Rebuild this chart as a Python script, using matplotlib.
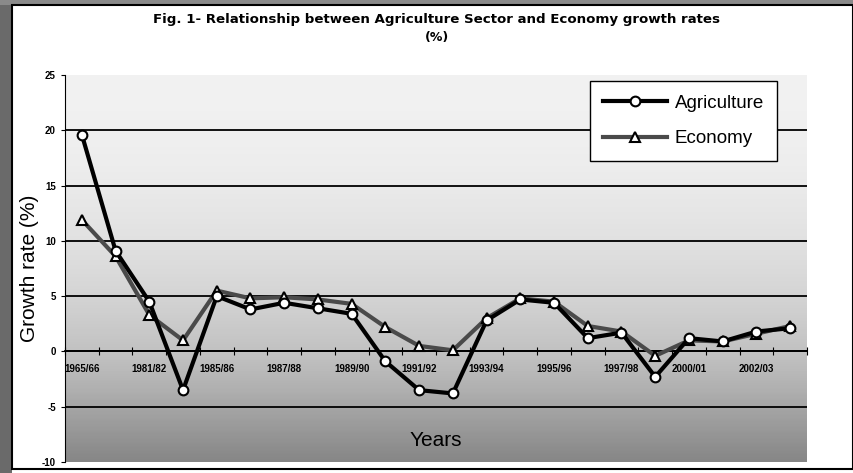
import numpy as np
import matplotlib.pyplot as plt
from matplotlib.patches import Rectangle

plt.rcParams['font.family'] = ['Liberation Sans', 'DejaVu Sans']
plt.rcParams['axes.unicode_minus'] = False

# Tick labels (every second category is labelled on the original)
labels = ["1965/66", "", "1981/82", "", "1985/86", "", "1987/88", "",
          "1989/90", "", "1991/92", "", "1993/94", "", "1995/96", "",
          "1997/98", "", "2000/01", "", "2002/03", ""]

# Growth rates (%)
agriculture = [19.6, 9.1, 4.5, -3.5, 5.0, 3.8, 4.4, 3.9, 3.4, -0.9, -3.5,
               -3.8, 2.8, 4.7, 4.4, 1.2, 1.7, -2.3, 1.2, 0.9, 1.8, 2.1]
economy = [11.9, 8.6, 3.3, 1.0, 5.5, 4.8, 4.9, 4.7, 4.3, 2.2, 0.5,
           0.1, 3.0, 4.8, 4.5, 2.3, 1.8, -0.4, 1.0, 0.9, 1.6, 2.3]

x = np.arange(len(labels))

fig = plt.figure(figsize=(8.54, 4.73), dpi=100)

# scanned page frame
fig.patches.append(Rectangle((0, 0), 12 / 854, 1, transform=fig.transFigure,
                             facecolor='#6a6a6a', edgecolor='none', zorder=0))
fig.patches.append(Rectangle((0, 1 - 5 / 473), 1, 5 / 473, transform=fig.transFigure,
                             facecolor='#8a8a8a', edgecolor='none', zorder=0))
fig.patches.append(Rectangle((12 / 854, 4 / 473), 1 - 13 / 854, 1 - 9 / 473,
                             transform=fig.transFigure, facecolor='none',
                             edgecolor='black', linewidth=1.5, zorder=1))

ax = fig.add_axes([65 / 854, 11 / 473, 742 / 854, 387 / 473])

# grey shading of the plot area, light at top, darker towards the bottom
grad = np.linspace(0, 1, 256) ** 1.8
ax.imshow(grad.reshape(-1, 1), extent=(-0.5, 21.5, -10, 25), aspect='auto',
          origin='upper', cmap='Greys', vmin=-0.25, vmax=2.0, zorder=0)

for g in [-5, 0, 5, 10, 15, 20]:
    ax.axhline(g, color='black', linewidth=1.3, zorder=1)

ax.plot(x, economy, color='#4a4a4a', linewidth=3, marker='^', markersize=7.5,
        markerfacecolor='white', markeredgecolor='black', markeredgewidth=1.5,
        label='Economy', zorder=3)
ax.plot(x, agriculture, color='black', linewidth=3, marker='o', markersize=7,
        markerfacecolor='white', markeredgecolor='black', markeredgewidth=1.5,
        label='Agriculture', zorder=4)

ax.set_xlim(-0.5, len(labels) - 0.5)
ax.set_ylim(-10, 25)
ax.set_yticks(range(-10, 30, 5))
ax.tick_params(axis='y', labelsize=7, length=3, width=0.8)
for t in ax.get_yticklabels():
    t.set_fontweight('bold')

ax.spines['top'].set_visible(False)
ax.spines['right'].set_visible(False)
ax.spines['left'].set_linestyle((0, (2, 1)))
ax.spines['bottom'].set_position(('data', 0))
ax.spines['bottom'].set_linewidth(1.3)

ax.set_xticks(np.arange(-0.5, len(labels), 1))
ax.set_xticklabels([])
ax.tick_params(axis='x', which='major', direction='inout', length=6, width=0.8)
ax.set_xticks(x, minor=True)
ax.set_xticklabels(labels, minor=True, fontsize=7, fontweight='bold')
ax.tick_params(axis='x', which='minor', length=0, pad=9)

ax.set_ylabel('Growth rate (%)', fontsize=15, labelpad=2)
ax.text(0.5, 0.03, 'Years', transform=ax.transAxes, ha='center', va='bottom',
        fontsize=15)

handles, lbls = ax.get_legend_handles_labels()
leg = ax.legend(handles[::-1], lbls[::-1], loc='upper right',
                bbox_to_anchor=(0.972, 1.008), fontsize=13.5, handlelength=3.4,
                fancybox=False, framealpha=1, edgecolor='black',
                borderpad=0.7, labelspacing=1.0, handletextpad=0.4)
leg.get_frame().set_linewidth(1.0)

fig.text(437 / 854, 1 - 20 / 473,
         'Fig. 1- Relationship between Agriculture Sector and Economy growth rates',
         ha='center', va='center', fontsize=9.6, fontweight='bold',
         family='DejaVu Sans')
fig.text(437 / 854, 1 - 38 / 473, '(%)', ha='center', va='center',
         fontsize=9, fontweight='bold', family='DejaVu Sans')

fig.savefig('out.png', dpi=100)
